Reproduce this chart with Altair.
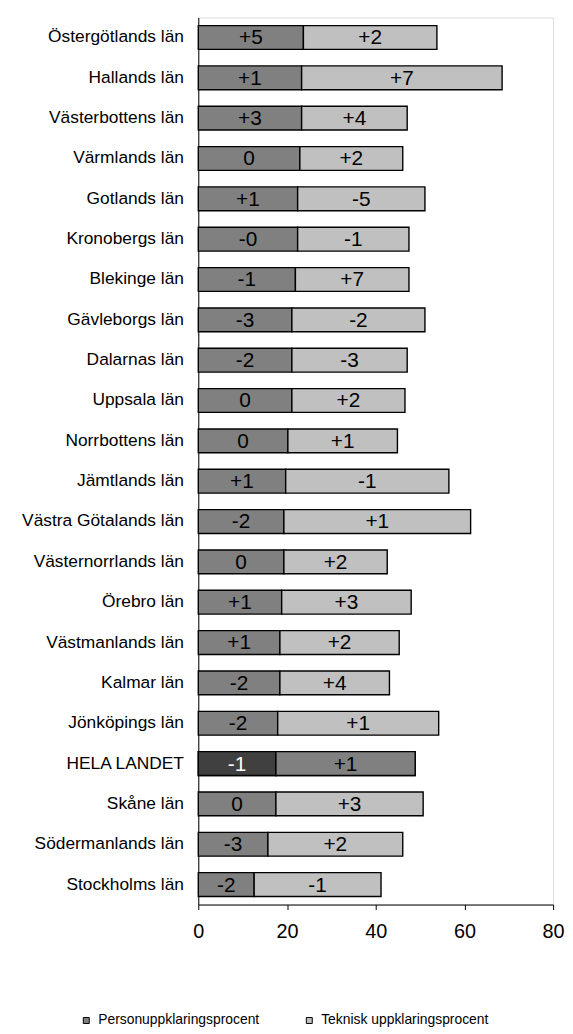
import altair as alt
import pandas as pd

counties = [
    "Östergötlands län", "Hallands län", "Västerbottens län", "Värmlands län",
    "Gotlands län", "Kronobergs län", "Blekinge län", "Gävleborgs län",
    "Dalarnas län", "Uppsala län", "Norrbottens län", "Jämtlands län",
    "Västra Götalands län", "Västernorrlands län", "Örebro län",
    "Västmanlands län", "Kalmar län", "Jönköpings län", "HELA LANDET",
    "Skåne län", "Södermanlands län", "Stockholms län",
]
person = [23.7, 23.3, 23.3, 22.9, 22.4, 22.4, 21.9, 21.1, 21.1, 21.1, 20.2,
          19.7, 19.3, 19.3, 18.8, 18.4, 18.4, 17.9, 17.5, 17.5, 15.7, 12.6]
teknisk = [30.1, 45.2, 23.8, 23.2, 28.7, 25.1, 25.6, 30.0, 26.0, 25.5, 24.7,
           36.8, 42.1, 23.3, 29.2, 26.9, 24.7, 36.3, 31.4, 33.2, 30.4, 28.6]
person_change = ["+5", "+1", "+3", "0", "+1", "-0", "-1", "-3", "-2", "0", "0",
                 "+1", "-2", "0", "+1", "+1", "-2", "-2", "-1", "0", "-3", "-2"]
teknisk_change = ["+2", "+7", "+4", "+2", "-5", "-1", "+7", "-2", "-3", "+2", "+1",
                  "-1", "+1", "+2", "+3", "+2", "+4", "+1", "+1", "+3", "+2", "-1"]
series_names = ["Personuppklaringsprocent", "Teknisk uppklaringsprocent"]
x_ticks = [0, 20, 40, 60, 80]

rows = []
for i, c in enumerate(counties):
    rows.append({"county": c, "series": series_names[0], "order": 0,
                 "value": person[i], "label": person_change[i]})
    rows.append({"county": c, "series": series_names[1], "order": 1,
                 "value": teknisk[i], "label": teknisk_change[i]})
df = pd.DataFrame(rows)

FONT = "Liberation Sans"

base = alt.Chart(df).transform_stack(
    stack="value", groupby=["county"], as_=["x0", "x1"],
    sort=[alt.SortField("order", order="ascending")],
).transform_calculate(
    mid="(datum.x0 + datum.x1) / 2",
    fill_total="datum.order === 0 ? '#404040' : '#808080'",
    txt_color="(datum.county === 'HELA LANDET' && datum.order === 0) ? 'white' : 'black'",
)

y_scale = alt.Scale(domain=counties, paddingInner=0.41, paddingOuter=0.2)
y_axis = alt.Axis(ticks=False, labelPadding=15, labelFontSize=17.5, labelFont=FONT,
                  labelColor="black", domainColor="black", labelLimit=300, title=None)
x_scale = alt.Scale(domain=[0, 80], nice=False)
x_axis = alt.Axis(values=x_ticks, grid=False, tickSize=5, labelPadding=12,
                  labelFontSize=20, labelFont=FONT, labelColor="black",
                  labelFlush=False, domainColor="black", tickColor="black",
                  title=None)

bars = base.mark_bar(stroke="black", strokeWidth=1.4).encode(
    x=alt.X("x0:Q", scale=x_scale, axis=x_axis),
    x2="x1:Q",
    y=alt.Y("county:N", scale=y_scale, axis=y_axis),
    color=alt.Color(
        "series:N",
        scale=alt.Scale(domain=series_names, range=["#808080", "#C0C0C0"]),
        legend=alt.Legend(
            orient="none", legendX=-120, legendY=1005, direction="horizontal",
            title=None, symbolType="square", symbolSize=36,
            symbolStrokeColor="black", symbolStrokeWidth=1,
            labelFontSize=14, labelFont=FONT, labelColor="black",
            labelLimit=300, labelOffset=5, columnPadding=43, padding=0,
        ),
    ),
)

total_bars = base.transform_filter("datum.county === 'HELA LANDET'").mark_bar(
    stroke="black", strokeWidth=1.4
).encode(
    x=alt.X("x0:Q", scale=x_scale),
    x2="x1:Q",
    y=alt.Y("county:N", scale=y_scale),
    fill=alt.Fill("fill_total:N", scale=None),
)

labels = base.mark_text(font=FONT, fontSize=21, baseline="middle", dy=1).encode(
    x=alt.X("mid:Q", scale=x_scale),
    y=alt.Y("county:N", scale=y_scale),
    text="label:N",
    fill=alt.Fill("txt_color:N", scale=None),
)

chart = alt.layer(bars, total_bars, labels).properties(
    width=358, height=895,
    padding={"left": 192, "top": 5, "right": 12, "bottom": 124},
    autosize=alt.AutoSizeParams(type="none"),
).configure_view(
    stroke="black", strokeWidth=1.4
).configure_axis(
    domainWidth=1.4, tickWidth=1.4
).configure(background="white")

chart.save("out.html", embed_options={"renderer": "svg", "actions": False})
